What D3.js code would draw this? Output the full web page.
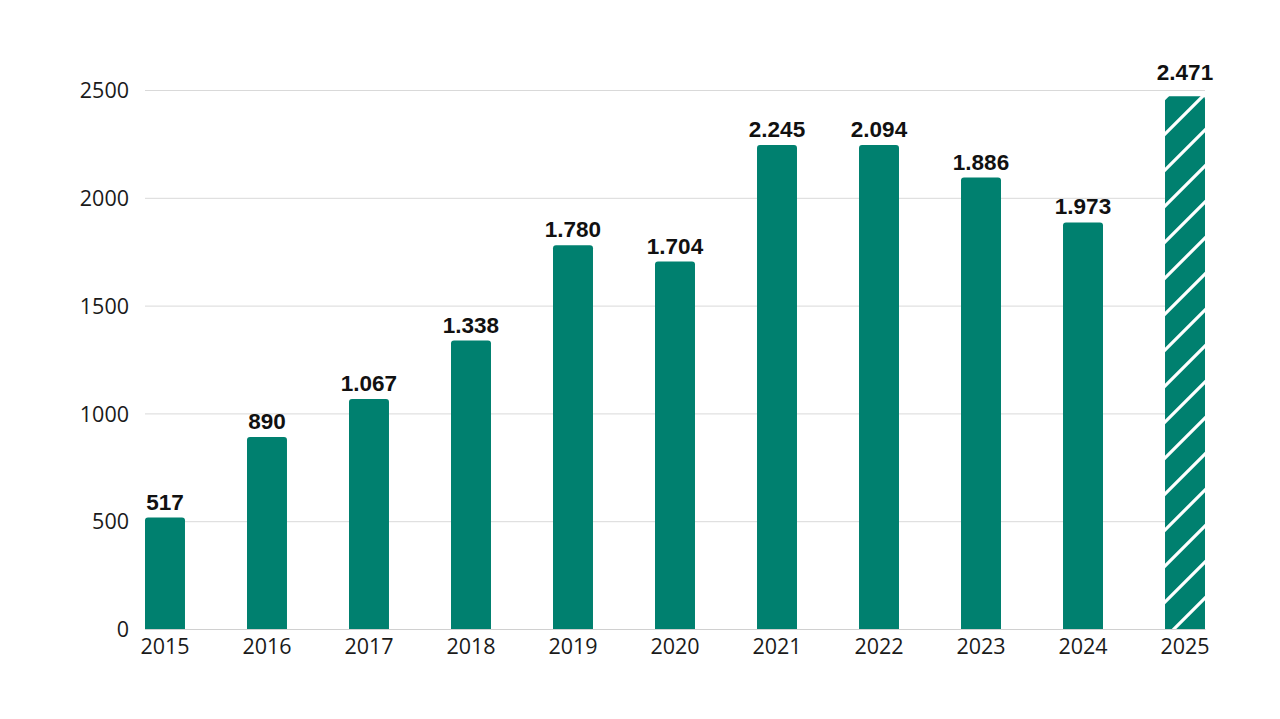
<!DOCTYPE html>
<html>
<head>
<meta charset="utf-8">
<script src="https://cdn.jsdelivr.net/npm/d3@7/dist/d3.min.js"></script>
<style>
  html, body { margin: 0; padding: 0; background: #ffffff; }
  svg { display: block; }
</style>
</head>
<body>
<svg id="chart" width="1280" height="719"></svg>
<script>
// ---- data ----
const years = ["2015","2016","2017","2018","2019","2020","2021","2022","2023","2024","2025"];
const barValues = [517, 890, 1067, 1338, 1780, 1704, 2245, 2245, 2094, 1886, 2471];
const valueLabels = ["517","890","1.067","1.338","1.780","1.704","2.245","2.094","1.886","1.973","2.471"];
const hatchedYears = ["2025"];
const yTicks = [0, 500, 1000, 1500, 2000, 2500];

// ---- layout ----
const M = { left: 145, right: 1205, top: 90, bottom: 629 };
const green = "#00806f";

const svg = d3.select("#chart");

const x = d3.scaleBand().domain(years).range([M.left, M.right])
  .paddingInner(0.608).paddingOuter(0);
const y = d3.scaleLinear().domain([0, 2500]).range([M.bottom, M.top]);

// pattern for hatched bar
const defs = svg.append("defs");
const pat = defs.append("pattern")
  .attr("id", "hatch")
  .attr("patternUnits", "userSpaceOnUse")
  .attr("width", 36).attr("height", 36)
  .attr("x", 0).attr("y", 3);
pat.append("rect").attr("width", 36).attr("height", 36).attr("fill", green);
pat.append("path")
  .attr("d", "M-9,9 L9,-9 M0,36 L36,0 M27,45 L45,27")
  .attr("stroke", "#ffffff").attr("stroke-width", 3.2);

// gridlines
const gy = d3.axisLeft(y).tickValues(yTicks).tickSize(-(M.right - M.left)).tickFormat("").tickSizeOuter(0);
const grid = svg.append("g").attr("transform", `translate(${M.left},0)`).call(gy);
grid.select(".domain").remove();
grid.selectAll(".tick line").attr("stroke", "#d9d9d9").attr("stroke-width", 1);

// y axis labels
const ya = d3.axisLeft(y).tickValues(yTicks).tickSize(0).tickPadding(16).tickFormat(d => String(d));
const yg = svg.append("g").attr("transform", `translate(${M.left},0)`).call(ya);
yg.select(".domain").remove();
yg.selectAll("text")
  .attr("font-family", "'Open Sans', sans-serif")
  .attr("font-size", 21.5)
  .attr("fill", "#1a1a1a")
  .attr("dy", "0.36em");

// bars
const r = 3;
function barPath(d, i) {
  const x0 = x(years[i]), w = x.bandwidth();
  const y0 = y(d), y1 = y(0);
  return `M${x0},${y1} L${x0},${y0 + r} Q${x0},${y0} ${x0 + r},${y0} L${x0 + w - r},${y0} Q${x0 + w},${y0} ${x0 + w},${y0 + r} L${x0 + w},${y1} Z`;
}
svg.append("g").selectAll("path")
  .data(barValues)
  .join("path")
  .attr("d", (d, i) => barPath(d, i))
  .attr("fill", (d, i) => hatchedYears.includes(years[i]) ? "url(#hatch)" : green);

// x axis
const xa = d3.axisBottom(x).tickSize(0).tickPadding(10).tickSizeOuter(0);
const xg = svg.append("g").attr("transform", `translate(0,${M.bottom})`).call(xa);
xg.select(".domain").attr("stroke", "#d0d0d0").attr("stroke-width", 1.2);
xg.selectAll("text")
  .attr("font-family", "'Open Sans', sans-serif")
  .attr("font-size", 21.5)
  .attr("fill", "#1a1a1a");

// value labels
svg.append("g").selectAll("text")
  .data(barValues)
  .join("text")
  .attr("x", (d, i) => x(years[i]) + x.bandwidth() / 2)
  .attr("y", (d, i) => y(d) - (hatchedYears.includes(years[i]) ? 16 : 8))
  .attr("text-anchor", "middle")
  .attr("font-family", "'Liberation Sans', Arial, sans-serif")
  .attr("font-weight", "bold")
  .attr("font-size", 22.5)
  .attr("fill", "#111111")
  .text((d, i) => valueLabels[i]);
</script>
</body>
</html>
